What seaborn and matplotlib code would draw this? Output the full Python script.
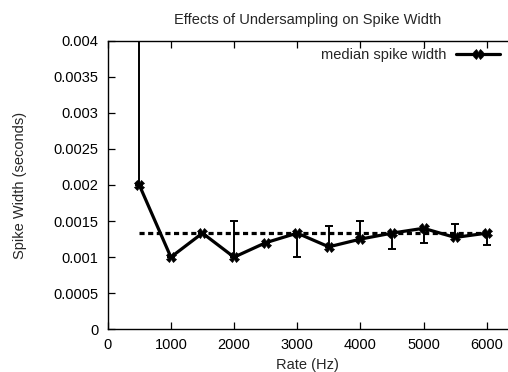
import matplotlib
matplotlib.use("Agg")
import matplotlib.pyplot as plt
import seaborn as sns
import numpy as np
import pandas as pd

# ---- data ----
rates = [500, 1000, 1500, 2000, 2500, 3000, 3500, 4000, 4500, 5000, 5500, 6000]
median_width = [0.002, 0.001, 0.001333, 0.001, 0.0012, 0.001333, 0.001143,
                0.00125, 0.001333, 0.0014, 0.001273, 0.001333]
lower_width = [0.002, 0.001, 0.001333, 0.001, 0.0012, 0.001, 0.001143,
               0.00125, 0.001111, 0.0012, 0.001273, 0.001167]
upper_width = [0.0042, 0.001, 0.001333, 0.0015, 0.0012, 0.001333, 0.001429,
               0.0015, 0.001333, 0.0014, 0.001455, 0.001333]
reference_x = [500, 6000]
reference_width = [0.001336, 0.001336]

xticks = [0, 1000, 2000, 3000, 4000, 5000, 6000]
xtick_labels = ["0", "1000", "2000", "3000", "4000", "5000", "6000"]
yticks = [0, 0.0005, 0.001, 0.0015, 0.002, 0.0025, 0.003, 0.0035, 0.004]
ytick_labels = ["0", "0.0005", "0.001", "0.0015", "0.002", "0.0025",
                "0.003", "0.0035", "0.004"]

title = "Effects of Undersampling on Spike Width"
xlabel = "Rate (Hz)"
ylabel = "Spike Width (seconds)"
legend_label = "median spike width"

df = pd.DataFrame({"rate": rates, "median": median_width,
                   "lo": lower_width, "hi": upper_width})
ref = pd.DataFrame({"rate": reference_x, "w": reference_width})

FS = 10.5
sns.set_style("ticks")
plt.rcParams["font.family"] = ["Liberation Sans", "DejaVu Sans"]
plt.rcParams["font.size"] = FS

fig = plt.figure(figsize=(5.08, 3.72), dpi=100)
W, H = 508, 372
left, right, top, bottom = 107.7, 508, 40.7, 329.3
ax = fig.add_axes([left / W, 1 - bottom / H, (right - left) / W, (bottom - top) / H])

# reference (dashed) line
sns.lineplot(data=ref, x="rate", y="w", ax=ax, color="black", linewidth=2.3,
             dashes=False, legend=False)
ax.lines[-1].set_dashes((1.6, 1.1))

# error bars
med = np.array(median_width)
ax.errorbar(df["rate"], df["median"],
            yerr=[med - np.array(lower_width), np.array(upper_width) - med],
            fmt="none", ecolor="black", elinewidth=1.4, capsize=3, capthick=1.4,
            zorder=3)

# median line
sns.lineplot(data=df, x="rate", y="median", ax=ax, color="black", linewidth=2.3,
             marker="X", markersize=7, markeredgewidth=0.5, markeredgecolor="black",
             label=legend_label, zorder=4)

ax.set_xlim(0, 6337)
ax.set_ylim(0, 0.004)
ax.set_xticks(xticks)
ax.set_xticklabels(xtick_labels)
ax.set_yticks(yticks)
ax.set_yticklabels(ytick_labels)
ax.tick_params(direction="in", length=5, width=0.9, top=True, right=False,
               colors="black", labelsize=FS)
ax.tick_params(axis="y", pad=6.5)
ax.tick_params(axis="x", pad=6)
for side in ["left", "bottom", "top"]:
    ax.spines[side].set_linewidth(1.0)
    ax.spines[side].set_color("black")
ax.spines["right"].set_visible(False)

ax.set_xlabel(xlabel, fontsize=FS, labelpad=4.5)
ax.set_ylabel(ylabel, fontsize=FS, labelpad=19)
ax.set_title(title, fontsize=FS, pad=12)

leg = ax.legend(loc="center right", bbox_to_anchor=(500 / W, 1 - 54.7 / H),
                bbox_transform=fig.transFigure, frameon=False, markerfirst=False,
                handlelength=3.0, handletextpad=0.7, borderpad=0, borderaxespad=0,
                fontsize=FS)

fig.savefig("out.png", dpi=100)
